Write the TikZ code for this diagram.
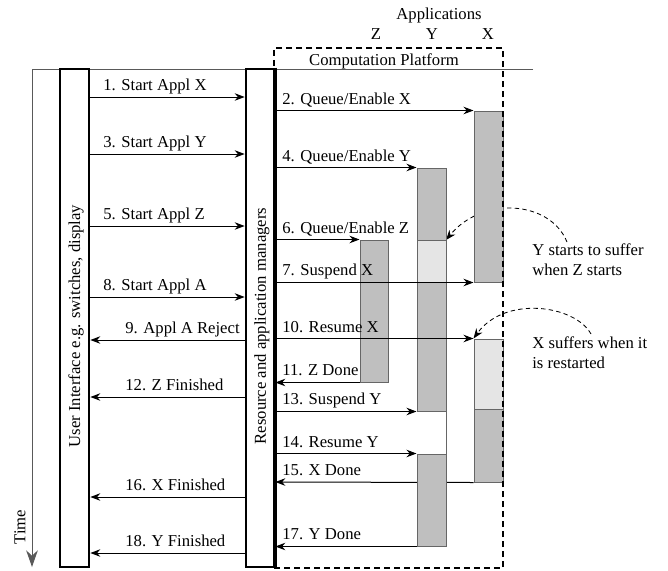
\documentclass[tikz,border=0pt]{standalone}
\usepackage{fontspec}
\setmainfont{Liberation Serif}
\usepackage{tikz}
\usetikzlibrary{arrows.meta,fit}

\begin{document}
\begin{tikzpicture}[
    x=0.6pt, y=-0.6pt,
    font=\fontsize{10}{12}\selectfont,
    lifeline/.style={rectangle, draw, line width=1.6pt, inner sep=0pt},
    runbar/.style={rectangle, draw=black!60, line width=0.6pt, fill=black!25, inner sep=0pt},
    waitbar/.style={runbar, fill=black!10},
    msg/.style={-{Stealth[length=6pt,width=4.5pt]}, line width=0.6pt},
    lbl/.style={anchor=base west, inner sep=0pt},
    note/.style={-{Stealth[length=6pt,width=4.5pt]}, line width=0.5pt, dash pattern=on 2.6pt off 2pt}
]
\useasboundingbox (0,0) rectangle (668,570);

% Time axis
\coordinate (tend) at (533,69);
\coordinate (tcorner) at (32,69);
\coordinate (tbottom) at (32,567);
\draw[black!65, line width=0.6pt, -{Stealth[length=10pt,width=7pt]}] (tend) -- (tcorner) -- (tbottom);
\node[rotate=90] (time) at (20,527) {Time};

% Applications
\node[anchor=base] (apps) at (439,19) {Applications};
\node[anchor=base] (appz) at (376,39) {Z};
\node[anchor=base] (appy) at (432,39) {Y};
\node[anchor=base] (appx) at (488,39) {X};

% Lifelines
\node[lifeline, fit={(60,69) (89,567)}] (ui) {};
\node[lifeline, fit={(246,69) (274,567)}] (rm) {};
\node[rotate=90] (uitext) at (76,326) {User Interface e.g. switches, display};
\node[rotate=90] (rmtext) at (262,326) {Resource and application managers};

% Notes
\node[align=left, anchor=west, inner sep=0pt] (ynote) at (532,260) {Y starts to suffer\\when Z starts};
\node[align=left, anchor=west, inner sep=0pt] (xnote) at (532,353) {X suffers when it\\is restarted};
\coordinate (ystart) at (567,242);
\coordinate (xstart) at (591,334);
\draw[note] (ystart) .. controls (550,200) and (482,196) .. (446,240);

% X Done (behind Y)
\coordinate (m15) at (0,482);

% Application X
\node[runbar, fit={(474,111) (503,282)}] (xa) {};
\node[waitbar, fit={(474,339) (503,409)}] (xb) {};
\node[runbar, fit={(474,409) (503,482)}] (xc) {};
\draw[msg] (xc.south west) -- (rm.east |- m15);

% Application Y
\node[runbar, fit={(417,168) (446,240)}] (ya) {};
\node[waitbar, fit={(417,240) (446,282)}] (yb) {};
\node[runbar, fit={(417,282) (446,411)}] (yc) {};
\node[runbar, fit={(417,454) (446,546)}] (yd) {};
\draw[black!60, line width=0.6pt] (yc.south east) -- (yd.north east);

% Application Z
\node[runbar, fit={(360,240) (388,382)}] (za) {};

% Computation platform
\node[draw, line width=1.4pt, dash pattern=on 3.6pt off 2.4pt, inner sep=0pt, fit={(274,48) (503,568)}] (platform) {};
\node[anchor=base] (ptitle) at (384,65) {Computation Platform};
\draw[line width=1.6pt] (rm.north east) -- (rm.south east);

% Messages UI <-> managers
\coordinate (m1) at (0,97);
\coordinate (m3) at (0,154);
\coordinate (m5) at (0,226);
\coordinate (m8) at (0,297);
\coordinate (m9) at (0,340);
\coordinate (m12) at (0,397);
\coordinate (m16) at (0,497);
\coordinate (m18) at (0,553);
\draw[msg] (ui.east |- m1) -- (rm.west |- m1);
\draw[msg] (ui.east |- m3) -- (rm.west |- m3);
\draw[msg] (ui.east |- m5) -- (rm.west |- m5);
\draw[msg] (ui.east |- m8) -- (rm.west |- m8);
\draw[msg] (rm.west |- m9) -- (ui.east |- m9);
\draw[msg] (rm.west |- m12) -- (ui.east |- m12);
\draw[msg] (rm.west |- m16) -- (ui.east |- m16);
\draw[msg] (rm.west |- m18) -- (ui.east |- m18);
\node[lbl] (l1) at (103,90) {1. Start Appl X};
\node[lbl] (l3) at (103,147) {3. Start Appl Y};
\node[lbl] (l5) at (103,219) {5. Start Appl Z};
\node[lbl] (l8) at (103,290) {8. Start Appl A};
\node[lbl] (l9) at (125,333) {9. Appl A Reject};
\node[lbl] (l12) at (125,390) {12. Z Finished};
\node[lbl] (l16) at (125,490) {16. X Finished};
\node[lbl] (l18) at (125,546) {18. Y Finished};

% Messages managers <-> applications
\draw[msg] (rm.east |- xa.north) -- (xa.north west);
\draw[msg] (rm.east |- ya.north) -- (ya.north west);
\draw[msg] (rm.east |- za.north) -- (za.north west);
\draw[msg] (rm.east |- xa.south) -- (xa.south west);
\draw[msg] (rm.east |- xb.north) -- (xb.north west);
\draw[msg] (za.south west) -- (rm.east |- za.south);
\draw[msg] (rm.east |- yc.south) -- (yc.south west);
\draw[msg] (rm.east |- yd.north) -- (yd.north west);
\draw[msg] (yd.south west) -- (rm.east |- yd.south);
\node[lbl] (l2) at (282,104) {2. Queue/Enable X};
\node[lbl] (l4) at (282,161) {4. Queue/Enable Y};
\node[lbl] (l6) at (282,233) {6. Queue/Enable Z};
\node[lbl] (l7) at (282,275) {7. Suspend X};
\node[lbl] (l10) at (282,332) {10. Resume X};
\node[lbl] (l11) at (282,375) {11. Z Done};
\node[lbl] (l13) at (282,404) {13. Suspend Y};
\node[lbl] (l14) at (282,447) {14. Resume Y};
\node[lbl] (l15) at (282,475) {15. X Done};
\node[lbl] (l17) at (282,539) {17. Y Done};

% X suffers
\draw[note] (xstart) .. controls (575,305) and (505,295) .. (xb.north west);

\end{tikzpicture}
\end{document}
